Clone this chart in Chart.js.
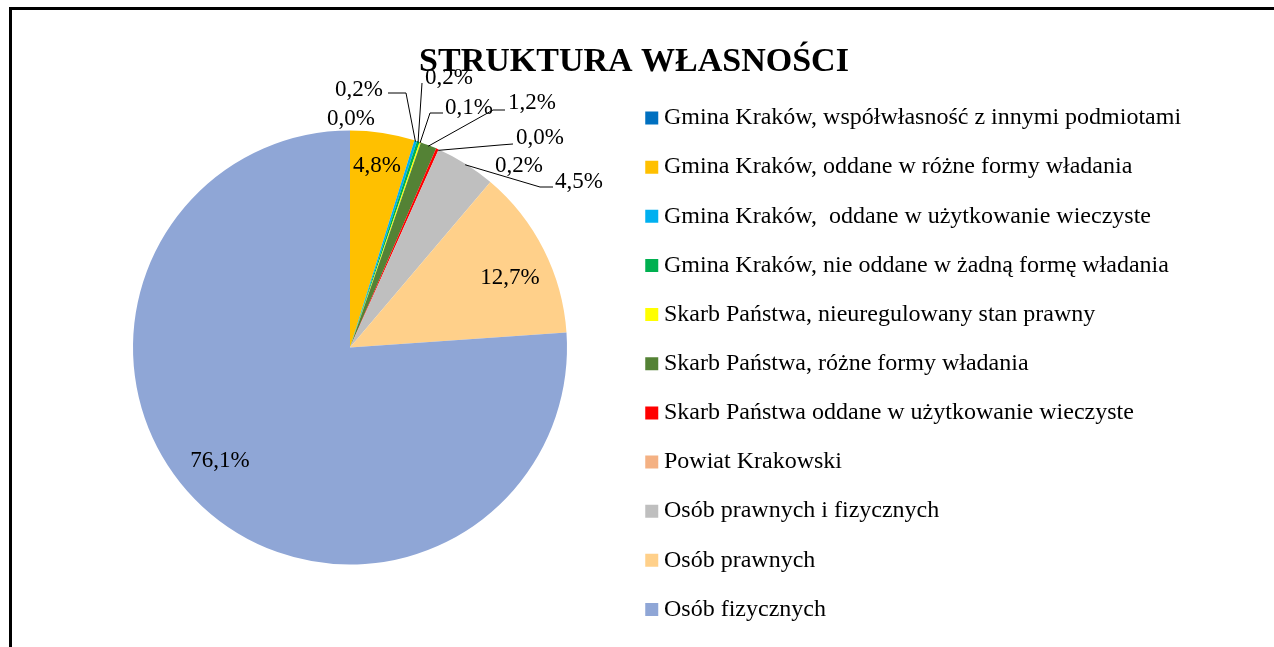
<!DOCTYPE html>
<html><head><meta charset="utf-8">
<script src="https://cdn.jsdelivr.net/npm/chart.js@4"></script>
<style>
html,body{margin:0;padding:0;background:#fff;}
#wrap{position:relative;width:1274px;height:647px;overflow:hidden;background:#fff;}
#frame{position:absolute;left:9px;top:7px;right:-10px;bottom:-10px;border-top:3px solid #000;border-left:3px solid #000;pointer-events:none;}
canvas{position:absolute;left:0;top:0;}
</style></head><body>
<div id="wrap"><canvas id="c" width="1274" height="647"></canvas><div id="frame"></div></div>
<script>
const chartTitle = 'STRUKTURA WŁASNOŚCI';
const categories = [
  'Gmina Kraków, współwłasność z innymi podmiotami',
  'Gmina Kraków, oddane w różne formy władania',
  'Gmina Kraków,  oddane w użytkowanie wieczyste',
  'Gmina Kraków, nie oddane w żadną formę władania',
  'Skarb Państwa, nieuregulowany stan prawny',
  'Skarb Państwa, różne formy władania',
  'Skarb Państwa oddane w użytkowanie wieczyste',
  'Powiat Krakowski',
  'Osób prawnych i fizycznych',
  'Osób prawnych',
  'Osób fizycznych'
];
const shares = [0.0, 4.8, 0.2, 0.2, 0.1, 1.2, 0.2, 0.0, 4.5, 12.7, 76.1];
const colors = ['#0070C0','#FFC000','#00B0F0','#00B050','#FFFF00','#548235','#FF0000','#F4B183','#BFBFBF','#FFD08A','#8FA6D6'];

// label text centre offsets from the pie centre, and optional leader polylines (offsets from pie centre)
const labelPlacement = [
  {at:[1,-229]},
  {at:[27,-181.5]},
  {at:[9,-257.5], leader:[[38,-254.5],[56,-254.5]]},
  {at:[99,-269.5], leader:[[72,-264.5]]},
  {at:[119,-239.5], leader:[[93,-234.5],[80,-234.5]]},
  {at:[182,-244.5], leader:[[155,-237.5],[143,-237.5]]},
  {at:[169,-181.5]},
  {at:[190,-209.5], leader:[[163,-203.5],[150,-202.5]]},
  {at:[229,-165.5], leader:[[203,-160.5],[190,-160.5]]},
  {at:[160,-69.5]},
  {at:[-130,113.5]}
];

const fmt = v => v.toFixed(1).replace('.', ',') + '%';

// legend geometry
const LEG_FONT = 24, LEG_PAD = 25.15, LEG_BOX_W = 0.5, LEG_LEFT = 626.35;
const PAD_LEFT = 73.65, PAD_TOP = 48.35, PAD_BOTTOM = 0.35;
const mctx = document.createElement('canvas').getContext('2d');
mctx.font = LEG_FONT + 'px "Liberation Serif"';
const maxTextW = Math.max(...categories.map(t => mctx.measureText(t).width));
const legendW = LEG_PAD + LEG_BOX_W + LEG_FONT / 2 + maxTextW + 10;
const PAD_RIGHT = 1274 - LEG_LEFT - legendW;

const titlePlugin = {
  id: 'excelTitle',
  afterDraw(chart) {
    const ctx = chart.ctx;
    ctx.save();
    ctx.font = 'bold 34px "Liberation Serif"';
    ctx.fillStyle = '#000';
    ctx.textAlign = 'center';
    ctx.textBaseline = 'alphabetic';
    ctx.fillText(chartTitle, 634, 71);
    ctx.restore();
  }
};

const labelPlugin = {
  id: 'sliceLabels',
  afterDatasetsDraw(chart) {
    const ctx = chart.ctx;
    const meta = chart.getDatasetMeta(0);
    ctx.save();
    ctx.font = '23px "Liberation Serif"';
    ctx.fillStyle = '#000';
    ctx.strokeStyle = '#000';
    ctx.lineWidth = 1;
    ctx.textAlign = 'center';
    ctx.textBaseline = 'middle';
    meta.data.forEach((arc, i) => {
      const p = arc.getProps(['x','y','startAngle','endAngle','outerRadius'], true);
      const pl = labelPlacement[i];
      if (!pl) return;
      if (pl.leader) {
        const mid = (p.startAngle + p.endAngle) / 2;
        const ex = p.x + Math.cos(mid) * (p.outerRadius - 1);
        const ey = p.y + Math.sin(mid) * (p.outerRadius - 1);
        ctx.beginPath();
        pl.leader.forEach((pt, k) => {
          const px = p.x + pt[0], py = p.y + pt[1];
          if (k === 0) ctx.moveTo(px, py); else ctx.lineTo(px, py);
        });
        ctx.lineTo(ex, ey);
        ctx.stroke();
      }
      ctx.fillText(fmt(shares[i]), p.x + pl.at[0], p.y + pl.at[1]);
    });
    ctx.restore();
  }
};

new Chart(document.getElementById('c'), {
  type: 'pie',
  data: {
    labels: categories,
    datasets: [{
      data: shares,
      backgroundColor: colors,
      borderWidth: 0,
      hoverOffset: 0,
      radius: 217
    }]
  },
  options: {
    responsive: false,
    animation: false,
    layout: { padding: { left: PAD_LEFT, right: PAD_RIGHT, top: PAD_TOP, bottom: PAD_BOTTOM } },
    plugins: {
      title: { display: false },
      tooltip: { enabled: false },
      legend: {
        position: 'right',
        align: 'end',
        maxWidth: 1000,
        labels: {
          font: { family: '"Liberation Serif"', size: LEG_FONT },
          color: '#000',
          usePointStyle: true,
          pointStyle: 'rect',
          boxWidth: LEG_BOX_W,
          boxHeight: 13,
          padding: LEG_PAD
        }
      }
    }
  },
  plugins: [titlePlugin, labelPlugin]
});
</script>
</body></html>
